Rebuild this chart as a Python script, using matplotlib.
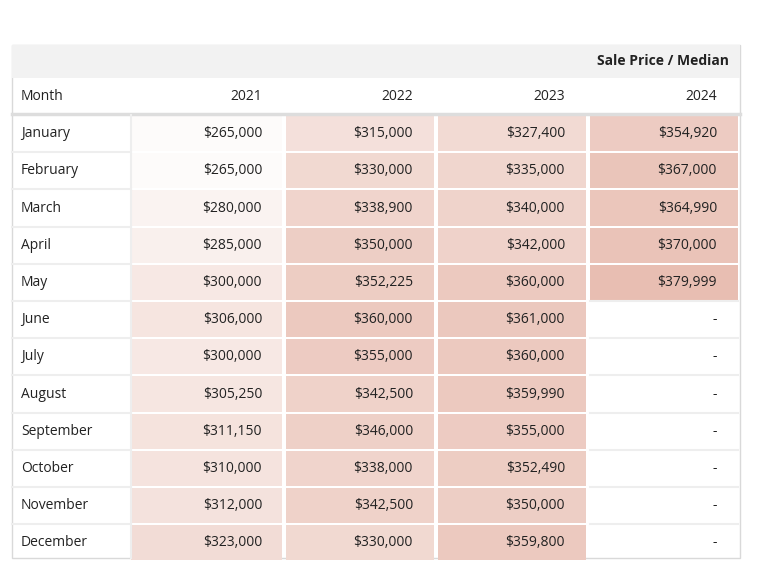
import numpy as np
import matplotlib.pyplot as plt
from matplotlib.patches import Rectangle

months = ['January', 'February', 'March', 'April', 'May', 'June', 'July',
          'August', 'September', 'October', 'November', 'December']
years = ['2021', '2022', '2023', '2024']
prices = {
    '2021': [265000, 265000, 280000, 285000, 300000, 306000, 300000, 305250, 311150, 310000, 312000, 323000],
    '2022': [315000, 330000, 338900, 350000, 352225, 360000, 355000, 342500, 346000, 338000, 342500, 330000],
    '2023': [327400, 335000, 340000, 342000, 360000, 361000, 360000, 359990, 355000, 352490, 350000, 359800],
    '2024': [354920, 367000, 364990, 370000, 379999, None, None, None, None, None, None, None],
}

plt.rcParams['font.family'] = ['Open Sans', 'DejaVu Sans']
fig = plt.figure(figsize=(7.6, 5.88), dpi=100)
ax = fig.add_axes([0, 0, 1, 1])
ax.set_xlim(0, 760)
ax.set_ylim(588, 0)
ax.axis('off')

vals = [v for y in years for v in prices[y] if v is not None]
vmin, vmax = min(vals), max(vals)
lo = np.array([253, 251, 250]) / 255
hi = np.array([232, 190, 178]) / 255

def shade(v):
    t = (v - vmin) / (vmax - vmin)
    return lo + (hi - lo) * t

# table frame
ax.add_patch(Rectangle((12, 45), 728, 513, facecolor='white', edgecolor='#d9d9d9', lw=1))
ax.add_patch(Rectangle((12, 45), 728, 33, facecolor='#f2f2f2', edgecolor='none'))
ax.text(729, 61, 'Sale Price / Median', ha='right', va='center', fontsize=10, fontweight='bold', color='#222')

col_left = [131, 286, 438, 590]
col_right = [282, 434, 586, 738]
text_x = [262, 413, 565, 717]
ax.text(21, 96, 'Month', ha='left', va='center', fontsize=10, color='#222')
for j, y in enumerate(years):
    ax.text(text_x[j], 96, y, ha='right', va='center', fontsize=10, color='#222')
ax.plot([12, 740], [113.5, 113.5], color='#dddddd', lw=2.5)

row_top = 115
row_h = 37.2
for i, m in enumerate(months):
    y0 = row_top + i * row_h
    yc = y0 + row_h / 2
    ax.text(21, yc, m, ha='left', va='center', fontsize=10, color='#222')
    if i > 0:
        ax.plot([12, 131], [y0, y0], color='#eeeeee', lw=1.5)
    for j, y in enumerate(years):
        v = prices[y][i]
        if v is None:
            ax.text(text_x[j], yc, '-', ha='right', va='center', fontsize=10, color='#222')
            ax.plot([col_left[j], col_right[j]], [y0, y0], color='#eeeeee', lw=1.5)
            continue
        ax.add_patch(Rectangle((col_left[j], y0 + 1), col_right[j] - col_left[j], row_h - 2,
                               facecolor=shade(v), edgecolor='none'))
        ax.text(text_x[j], yc, f'${v:,}', ha='right', va='center', fontsize=10, color='#222')
ax.plot([130.5, 130.5], [115, 558], color='#eeeeee', lw=1.5)

fig.savefig('out.png', dpi=100)
